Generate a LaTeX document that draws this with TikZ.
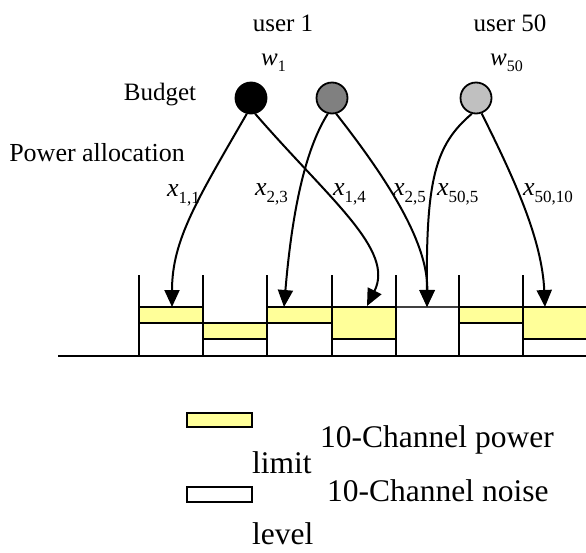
\documentclass[tikz,border=0pt]{standalone}
\usepackage{fontspec}
\setmainfont{Liberation Serif}
\usetikzlibrary{arrows.meta}
\definecolor{powy}{HTML}{FFFF99}
\definecolor{dgray}{HTML}{808080}
\definecolor{lgray}{HTML}{C0C0C0}
\newcommand\xlab[1]{{\itshape x}\raisebox{-7pt}{\fontsize{17}{17}\selectfont #1}}
\newcommand\wlab[1]{{\itshape w}\raisebox{-6pt}{\fontsize{16}{16}\selectfont #1}}
\begin{document}
\begin{tikzpicture}[x=1pt,y=-1pt,
  lbl/.style={inner sep=0pt,anchor=base west,font=\fontsize{26}{30}\selectfont},
  ttl/.style={inner sep=0pt,anchor=base,font=\fontsize{25}{30}\selectfont},
  leg/.style={inner sep=0pt,anchor=base west,font=\fontsize{31.5}{36}\selectfont},
  user/.style={circle,draw=black,line width=1.8pt,minimum size=31pt,inner sep=0pt},
  arr/.style={line width=2pt,-{Triangle[length=17pt,width=15pt]}},
  box/.style={line width=2pt,draw=black},
  tick/.style={line width=1.8pt}]
\useasboundingbox (0,0) rectangle (586,552);
% titles
\node[ttl] (tu1) at (283,31) {user 1};
\node[ttl] (tu50) at (510,31) {user 50};
\node[lbl,font=\fontsize{25}{30}\selectfont] (w1) at (261,65) {\wlab{1}};
\node[lbl,font=\fontsize{25}{30}\selectfont] (w50) at (490,65) {\wlab{50}};
\node[ttl] (bud) at (160,100) {Budget};
\node[ttl,font=\fontsize{26}{30}\selectfont] (pa) at (97,161) {Power allocation};
% users
\node[user,fill=black] (u1) at (251,98) {};
\node[user,fill=dgray] (u2) at (332,98) {};
\node[user,fill=lgray] (u50) at (476,98) {};
% channels
\fill[white] (139,307) rectangle (586,356);
\filldraw[box,fill=powy] (139,307) rectangle (203,323);
\filldraw[box,fill=white] (139,323) rectangle (203,356);
\filldraw[box,fill=powy] (203,323) rectangle (267,339);
\filldraw[box,fill=white] (203,339) rectangle (267,356);
\filldraw[box,fill=powy] (267,307) rectangle (332,323);
\filldraw[box,fill=white] (267,323) rectangle (332,356);
\filldraw[box,fill=powy] (332,307) rectangle (396,339);
\filldraw[box,fill=white] (332,339) rectangle (396,356);
\draw[line width=1.2pt,draw=black!75] (396,307) -- (459,307);
\filldraw[box,fill=powy] (459,307) rectangle (523,323);
\filldraw[box,fill=white] (459,323) rectangle (523,356);
\fill[powy] (523,307) rectangle (586,339);
\draw[box] (586,307) -- (523,307) -- (523,339) -- (586,339);
\foreach \xx in {139,203,267,332,396,459,523}
  \draw[tick] (\xx,275) -- (\xx,356);
\draw[line width=2pt] (58,356) -- (586,356);
% arrow targets
\coordinate (t1) at (172,307);
\coordinate (t3) at (284,307);
\coordinate (t4) at (367,306);
\coordinate (t5) at (427,307);
\coordinate (t7) at (545,307);
% arrows
\draw[arr] (u1.255) .. controls (197,200) and (172,240) .. (t1);
\draw[arr] (u1.285) .. controls (330,200) and (395,250) .. (t4);
\draw[arr] (u2.255) .. controls (308,145) and (293,200) .. (t3);
\draw[arr] (u2.285) .. controls (400,195) and (428,250) .. (t5);
\draw[arr] (u50.255) .. controls (435,145) and (426,180) .. (t5);
\draw[arr] (u50.290) .. controls (515,180) and (542,240) .. (t7);
% arrow labels
\node[lbl] (l11) at (167,196) {\xlab{1,1}};
\node[lbl] (l23) at (255,195) {\xlab{2,3}};
\node[lbl] (l14) at (333,195) {\xlab{1,4}};
\node[lbl] (l25) at (393,195) {\xlab{2,5}};
\node[lbl] (l505) at (437,195) {\xlab{50,5}};
\node[lbl] (l5010) at (523,195) {\xlab{50,10}};
% legend
\draw[line width=1.6pt,fill=powy] (187,413) rectangle (252,427);
\draw[line width=1.6pt,fill=white] (187,487) rectangle (252,502);
\node[leg] (lg1) at (320,447) {10-Channel power};
\node[leg] (lg1b) at (252,473) {limit};
\node[leg] (lg2) at (327,501) {10-Channel noise};
\node[leg] (lg2b) at (252,544) {level};
\end{tikzpicture}
\end{document}
